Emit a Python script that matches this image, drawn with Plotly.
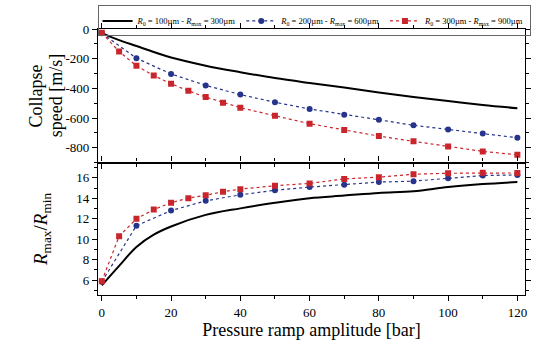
import plotly.graph_objects as go
from plotly.subplots import make_subplots

# ---- data ----
x_black = [0, 5, 10, 15, 20, 30, 40, 50, 60, 70, 80, 90, 100, 110, 120]
speed_black = [-28, -75, -115, -155, -192, -247, -291, -331, -364, -395, -428, -459, -486, -512, -534]
ratio_black = [5.5, 7.4, 9.25, 10.45, 11.25, 12.38, 13.02, 13.57, 14.02, 14.27, 14.53, 14.69, 15.1, 15.39, 15.59]

x_blue = [0, 10, 20, 30, 40, 50, 60, 70, 80, 90, 100, 110, 120]
speed_blue = [-28, -197, -303, -380, -442, -494, -539, -578, -612, -649, -678, -704, -733]
ratio_blue = [5.85, 11.33, 12.8, 13.76, 14.34, 14.79, 15.1, 15.33, 15.59, 15.68, 15.97, 16.23, 16.29]

x_red = [0, 5, 10, 15, 20, 25, 30, 35, 40, 50, 60, 70, 80, 90, 100, 110, 120]
speed_red = [-26, -152, -248, -314, -369, -417, -459, -497, -530, -585, -638, -680, -722, -757, -792, -825, -848]
ratio_red = [5.9, 10.3, 12.0, 12.9, 13.57, 14.02, 14.3, 14.65, 14.9, 15.23, 15.46, 15.9, 16.07, 16.36, 16.45, 16.5, 16.48]

speed_ticks = [0, -200, -400, -600, -800]
speed_ticklabels = ["0", "-200", "-400", "-600", "-800"]
ratio_ticks = [6, 8, 10, 12, 14, 16]
x_ticks = [0, 20, 40, 60, 80, 100, 120]

names = [
    "<i>R</i><sub>0</sub> = 100µm - <i>R</i><sub>max</sub> = 300µm",
    "<i>R</i><sub>0</sub> = 200µm - <i>R</i><sub>max</sub> = 600µm",
    "<i>R</i><sub>0</sub> = 300µm - <i>R</i><sub>max</sub> = 900µm",
]

BLUE = "#27348b"
RED = "#c8262c"
FONT = "Liberation Serif"

fig = make_subplots(rows=2, cols=1, shared_xaxes=True, vertical_spacing=0)

fig.add_trace(go.Scatter(x=x_black, y=speed_black, mode="lines", line=dict(color="black", width=2, shape="spline"),
                         name=names[0], legendgroup="a"), row=1, col=1)
fig.add_trace(go.Scatter(x=x_blue, y=speed_blue, mode="lines+markers", line=dict(color=BLUE, width=1.2, dash="dot"),
                         marker=dict(color=BLUE, size=6, symbol="circle"), name=names[1], legendgroup="b"), row=1, col=1)
fig.add_trace(go.Scatter(x=x_red, y=speed_red, mode="lines+markers", line=dict(color=RED, width=1.2, dash="dot"),
                         marker=dict(color=RED, size=6, symbol="square"), name=names[2], legendgroup="c"), row=1, col=1)

fig.add_trace(go.Scatter(x=x_black, y=ratio_black, mode="lines", line=dict(color="black", width=2, shape="spline"),
                         showlegend=False, legendgroup="a"), row=2, col=1)
fig.add_trace(go.Scatter(x=x_blue, y=ratio_blue, mode="lines+markers", line=dict(color=BLUE, width=1.2, dash="dot"),
                         marker=dict(color=BLUE, size=6, symbol="circle"), showlegend=False, legendgroup="b"), row=2, col=1)
fig.add_trace(go.Scatter(x=x_red, y=ratio_red, mode="lines+markers", line=dict(color=RED, width=1.2, dash="dot"),
                         marker=dict(color=RED, size=6, symbol="square"), showlegend=False, legendgroup="c"), row=2, col=1)

axis_common = dict(showline=True, linecolor="black", linewidth=1.2, mirror="ticks", ticks="outside",
                   ticklen=5, tickwidth=1.2, tickcolor="black", showgrid=False, zeroline=False,
                   tickfont=dict(family=FONT, size=13, color="black"))

fig.update_xaxes(range=[-1.1, 122.2], tickvals=x_ticks,
                 minor=dict(dtick=10, ticklen=3, ticks="outside", tickcolor="black"), **axis_common)
fig.update_xaxes(showticklabels=False, row=1, col=1)
fig.update_xaxes(title=dict(text="Pressure ramp amplitude [bar]", font=dict(family=FONT, size=18, color="black"),
                            standoff=2), row=2, col=1)

fig.update_yaxes(range=[-900, 0], tickvals=speed_ticks, ticktext=speed_ticklabels,
                 minor=dict(dtick=100, ticklen=3, ticks="outside", tickcolor="black"), row=1, col=1, **axis_common)
fig.update_yaxes(range=[4.55, 17.5], tickvals=ratio_ticks,
                 minor=dict(dtick=1, ticklen=3, ticks="outside", tickcolor="black"), row=2, col=1, **axis_common)

W, H = 536, 348
l, r, t, b = 98, 5, 24, 53
pw, ph = W - l - r, H - t - b

fig.update_layout(
    width=W, height=H,
    margin=dict(l=l, r=r, t=t, b=b),
    paper_bgcolor="white", plot_bgcolor="white",
    font=dict(family=FONT, color="black"),
    yaxis=dict(domain=[0.498, 1.0]),
    yaxis2=dict(domain=[0.0, 0.498]),
    showlegend=True,
    legend=dict(orientation="h", x=-0.001, y=1 + (24 - 0) / ph, xanchor="left", yanchor="top",
                bordercolor="#666", borderwidth=1, bgcolor="rgba(255,255,255,0)",
                font=dict(family=FONT, size=8.5, color="black"),
                itemwidth=30, tracegroupgap=0),
)

# y-axis titles placed by pixel position, converted to paper coordinates
ytitles = [
    ("Collapse", 35, 92, 18),
    ("speed [m/s]", 55, 92, 18),
    ("<i>R</i><sub>max</sub>/<i>R</i><sub>min</sub>", 41, 228, 19),
]
for text, px, py, fs in ytitles:
    fig.add_annotation(text=text, x=(px - l) / pw, y=1 - (py - t) / ph, xref="paper", yref="paper",
                       showarrow=False, textangle=-90, xanchor="center", yanchor="middle",
                       font=dict(family=FONT, size=fs, color="black"))

fig.write_html("out.html")
